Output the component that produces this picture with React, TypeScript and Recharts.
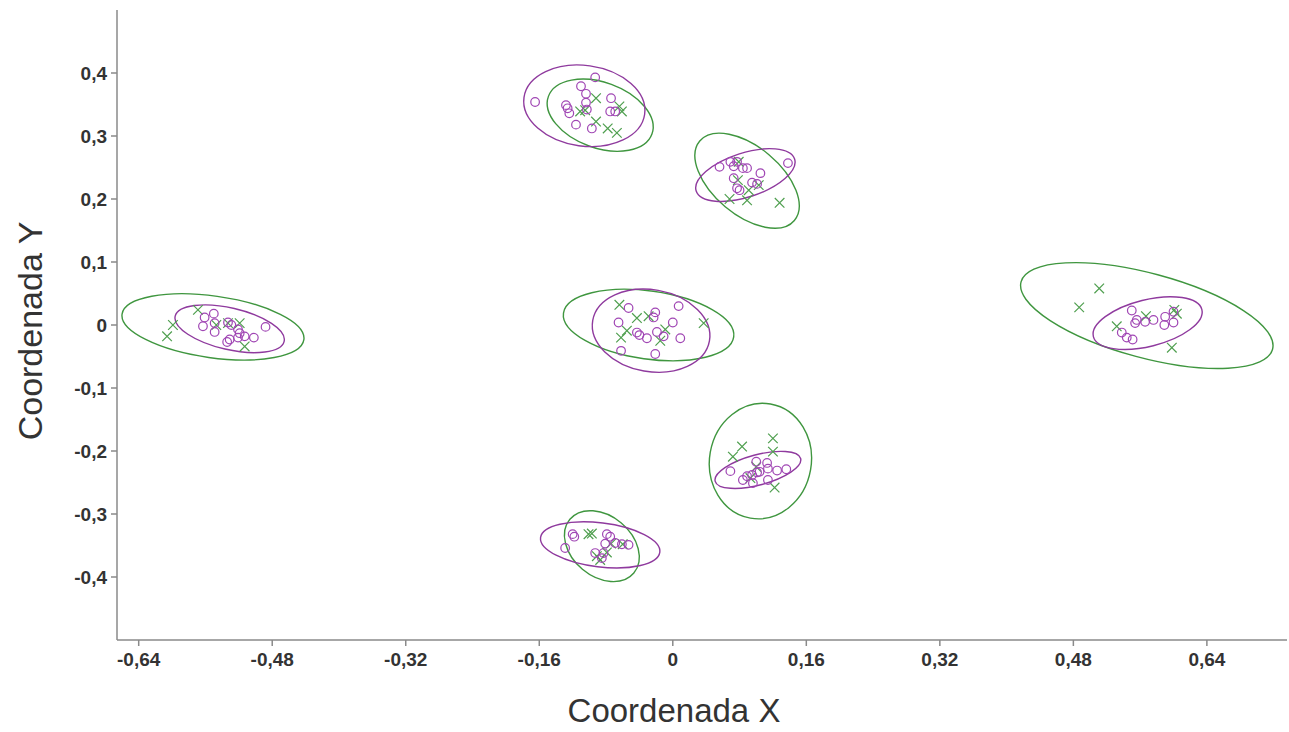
import { ScatterChart, Scatter, XAxis, YAxis } from 'recharts';

// Grupo 1: círculos (morado)
const circulosX = [
  -0.561, -0.55, -0.563, -0.549, -0.549, -0.533, -0.529, -0.521, -0.519, -0.531, -0.534, -0.521, -0.513, -0.502, -0.488,
  -0.093, -0.165, -0.11, -0.104, -0.128, -0.126, -0.124, -0.104, -0.103, -0.116, -0.097, -0.074, -0.075, -0.069,
  0.056, 0.069, 0.073, 0.084, 0.089, 0.138, 0.073, 0.105, 0.095, 0.101, 0.077, 0.08, 0.077,
  -0.053, -0.021, -0.023, 0.007, -0.065, 0.0, -0.043, -0.04, -0.031, -0.019, -0.011, 0.009, -0.062, -0.021,
  0.55, 0.556, 0.554, 0.566, 0.576, 0.59, 0.6, 0.6, 0.589, 0.538, 0.544, 0.551,
  0.069, 0.084, 0.089, 0.095, 0.101, 0.104, 0.1, 0.113, 0.114, 0.125, 0.136, 0.114, 0.096,
  -0.12, -0.118, -0.129, -0.079, -0.075, -0.081, -0.069, -0.061, -0.053, -0.083, -0.093, -0.085,
];
const circulosY = [
  0.012, 0.018, -0.002, 0.003, -0.011, 0.004, 0.0, -0.007, -0.013, -0.023, -0.027, -0.02, -0.018, -0.02, -0.003,
  0.393, 0.354, 0.379, 0.367, 0.349, 0.344, 0.336, 0.353, 0.342, 0.318, 0.312, 0.36, 0.339, 0.339,
  0.251, 0.259, 0.252, 0.249, 0.249, 0.257, 0.233, 0.241, 0.226, 0.224, 0.217, 0.214, 0.259,
  0.027, 0.02, 0.012, 0.03, 0.004, 0.004, -0.012, -0.016, -0.021, -0.011, -0.018, -0.021, -0.041, -0.046,
  0.023, 0.008, 0.003, 0.005, 0.008, 0.013, 0.021, 0.004, 0.0, -0.012, -0.02, -0.023,
  -0.232, -0.246, -0.24, -0.238, -0.234, -0.233, -0.217, -0.219, -0.228, -0.231, -0.229, -0.246, -0.251,
  -0.332, -0.336, -0.354, -0.332, -0.336, -0.347, -0.346, -0.348, -0.349, -0.362, -0.362, -0.37,
];

// Grupo 2: cruces (verde)
const cruzesX = [
  -0.569, -0.599, -0.606, -0.533, -0.519, -0.513, -0.547,
  -0.092, -0.111, -0.105, -0.064, -0.061, -0.092, -0.078, -0.067,
  0.079, 0.091, 0.103, 0.068, 0.089, 0.128, 0.078,
  -0.064, -0.043, -0.029, -0.055, -0.062, -0.015, -0.009, 0.037,
  0.511, 0.487, 0.532, 0.567, 0.601, 0.604, 0.598,
  0.083, 0.072, 0.12, 0.12, 0.1, 0.093, 0.122,
  -0.101, -0.097, -0.074, -0.06, -0.079, -0.091, -0.087,
];
const cruzesY = [
  0.024, 0.0, -0.018, 0.003, 0.003, -0.034, 0.0,
  0.36, 0.339, 0.341, 0.347, 0.339, 0.323, 0.312, 0.305,
  0.259, 0.214, 0.222, 0.2, 0.198, 0.194, 0.23,
  0.032, 0.011, 0.014, -0.009, -0.02, -0.025, -0.007, 0.003,
  0.058, 0.028, -0.002, 0.014, 0.024, 0.018, -0.036,
  -0.193, -0.209, -0.18, -0.201, -0.225, -0.243, -0.258,
  -0.332, -0.331, -0.347, -0.348, -0.361, -0.367, -0.373,
];

// Elipses de confianza (centro, semiejes en unidades de datos, giro en grados)
const elipseMoradaCx = [-0.531, -0.106, 0.087, -0.026, 0.569, 0.102, -0.087];
const elipseMoradaCy = [-0.006, 0.348, 0.238, -0.009, 0.003, -0.23, -0.349];
const elipseMoradaRx = [0.067, 0.073, 0.062, 0.071, 0.067, 0.053, 0.072];
const elipseMoradaRy = [0.033, 0.064, 0.035, 0.065, 0.037, 0.024, 0.035];
const elipseMoradaGiro = [13, 8, -18, 10, -14, -15, 7];

const elipseVerdeCx = [-0.551, -0.087, 0.089, -0.029, 0.568, 0.105, -0.085];
const elipseVerdeCy = [-0.003, 0.333, 0.229, 0.0, 0.015, -0.216, -0.351];
const elipseVerdeRx = [0.11, 0.066, 0.074, 0.103, 0.156, 0.061, 0.05];
const elipseVerdeRy = [0.049, 0.052, 0.054, 0.054, 0.067, 0.092, 0.048];
const elipseVerdeGiro = [8, 20, 40, 8, 15, 10, 40];

const ticksX = [-0.64, -0.48, -0.32, -0.16, 0, 0.16, 0.32, 0.48, 0.64];
const ticksY = [-0.4, -0.3, -0.2, -0.1, 0, 0.1, 0.2, 0.3, 0.4];

const DOMINIO_X: [number, number] = [-0.666, 0.736];
const DOMINIO_Y: [number, number] = [-0.5, 0.5];

const ANCHO = 1289;
const ALTO = 732;
const MARGEN = { top: 10, right: 2, left: 0, bottom: 0 };
const ANCHO_EJE_Y = 117;
const ALTO_EJE_X = 92;

const ESCALA_X = (ANCHO - MARGEN.left - MARGEN.right - ANCHO_EJE_Y) / (DOMINIO_X[1] - DOMINIO_X[0]);
const ESCALA_Y = (ALTO - MARGEN.top - MARGEN.bottom - ALTO_EJE_X) / (DOMINIO_Y[1] - DOMINIO_Y[0]);

const MORADO = '#a046b4';
const MORADO_ELIPSE = '#8f3a9e';
const VERDE = '#4f9f4f';
const VERDE_ELIPSE = '#3f963f';
const GRIS_EJE = '#8a8a8a';

const puntosCirculos = circulosX.map((x, i) => ({ x, y: circulosY[i] }));
const puntosCruzes = cruzesX.map((x, i) => ({ x, y: cruzesY[i] }));
const elipsesMoradas = elipseMoradaCx.map((x, i) => ({
  x,
  y: elipseMoradaCy[i],
  rx: elipseMoradaRx[i],
  ry: elipseMoradaRy[i],
  giro: elipseMoradaGiro[i],
}));
const elipsesVerdes = elipseVerdeCx.map((x, i) => ({
  x,
  y: elipseVerdeCy[i],
  rx: elipseVerdeRx[i],
  ry: elipseVerdeRy[i],
  giro: elipseVerdeGiro[i],
}));

const formatear = (v: number) => (v === 0 ? '0' : String(v).replace('.', ','));

const Circulo = (props: any) => {
  const { cx, cy } = props;
  if (cx == null || cy == null) return null;
  return <circle cx={cx} cy={cy} r={4.3} fill="none" stroke={MORADO} strokeWidth={1.2} />;
};

const Cruz = (props: any) => {
  const { cx, cy } = props;
  if (cx == null || cy == null) return null;
  const d = 4.8;
  return (
    <path
      d={`M${cx - d},${cy - d}L${cx + d},${cy + d}M${cx - d},${cy + d}L${cx + d},${cy - d}`}
      stroke={VERDE}
      strokeWidth={1.2}
      fill="none"
    />
  );
};

const crearElipse = (color: string) => (props: any) => {
  const { cx, cy, payload } = props;
  if (cx == null || cy == null || !payload) return null;
  return (
    <ellipse
      cx={cx}
      cy={cy}
      rx={payload.rx * ESCALA_X}
      ry={payload.ry * ESCALA_Y}
      transform={`rotate(${payload.giro} ${cx} ${cy})`}
      fill="none"
      stroke={color}
      strokeWidth={1.4}
    />
  );
};

const ElipseMorada = crearElipse(MORADO_ELIPSE);
const ElipseVerde = crearElipse(VERDE_ELIPSE);

const TituloX = () => (
  <text x={674} y={722} textAnchor="middle" fontSize={33} fill="#333">
    Coordenada X
  </text>
);

const TituloY = () => (
  <text x={42} y={331} textAnchor="middle" fontSize={34} fill="#333" transform="rotate(-90 42 331)">
    Coordenada Y
  </text>
);

const estiloTick = { fontSize: 19, fill: '#333', fontWeight: 'bold' as const };

export default function App() {
  return (
    <div style={{ fontFamily: 'Arial, "Liberation Sans", sans-serif' }}>
      <style>{'body{margin:0}'}</style>
      <ScatterChart width={ANCHO} height={ALTO} margin={MARGEN}>
        <XAxis
          type="number"
          dataKey="x"
          domain={DOMINIO_X}
          ticks={ticksX}
          allowDataOverflow
          height={ALTO_EJE_X}
          stroke={GRIS_EJE}
          strokeWidth={1.5}
          tickSize={6}
          tickMargin={7}
          tick={estiloTick}
          tickFormatter={formatear}
          label={<TituloX />}
        />
        <YAxis
          type="number"
          dataKey="y"
          domain={DOMINIO_Y}
          ticks={ticksY}
          allowDataOverflow
          width={ANCHO_EJE_Y}
          stroke={GRIS_EJE}
          strokeWidth={1.5}
          tickSize={6}
          tickMargin={4}
          tick={estiloTick}
          tickFormatter={formatear}
          label={<TituloY />}
        />
        <Scatter data={elipsesVerdes} shape={ElipseVerde} isAnimationActive={false} />
        <Scatter data={elipsesMoradas} shape={ElipseMorada} isAnimationActive={false} />
        <Scatter data={puntosCruzes} shape={Cruz} isAnimationActive={false} />
        <Scatter data={puntosCirculos} shape={Circulo} isAnimationActive={false} />
      </ScatterChart>
    </div>
  );
}
